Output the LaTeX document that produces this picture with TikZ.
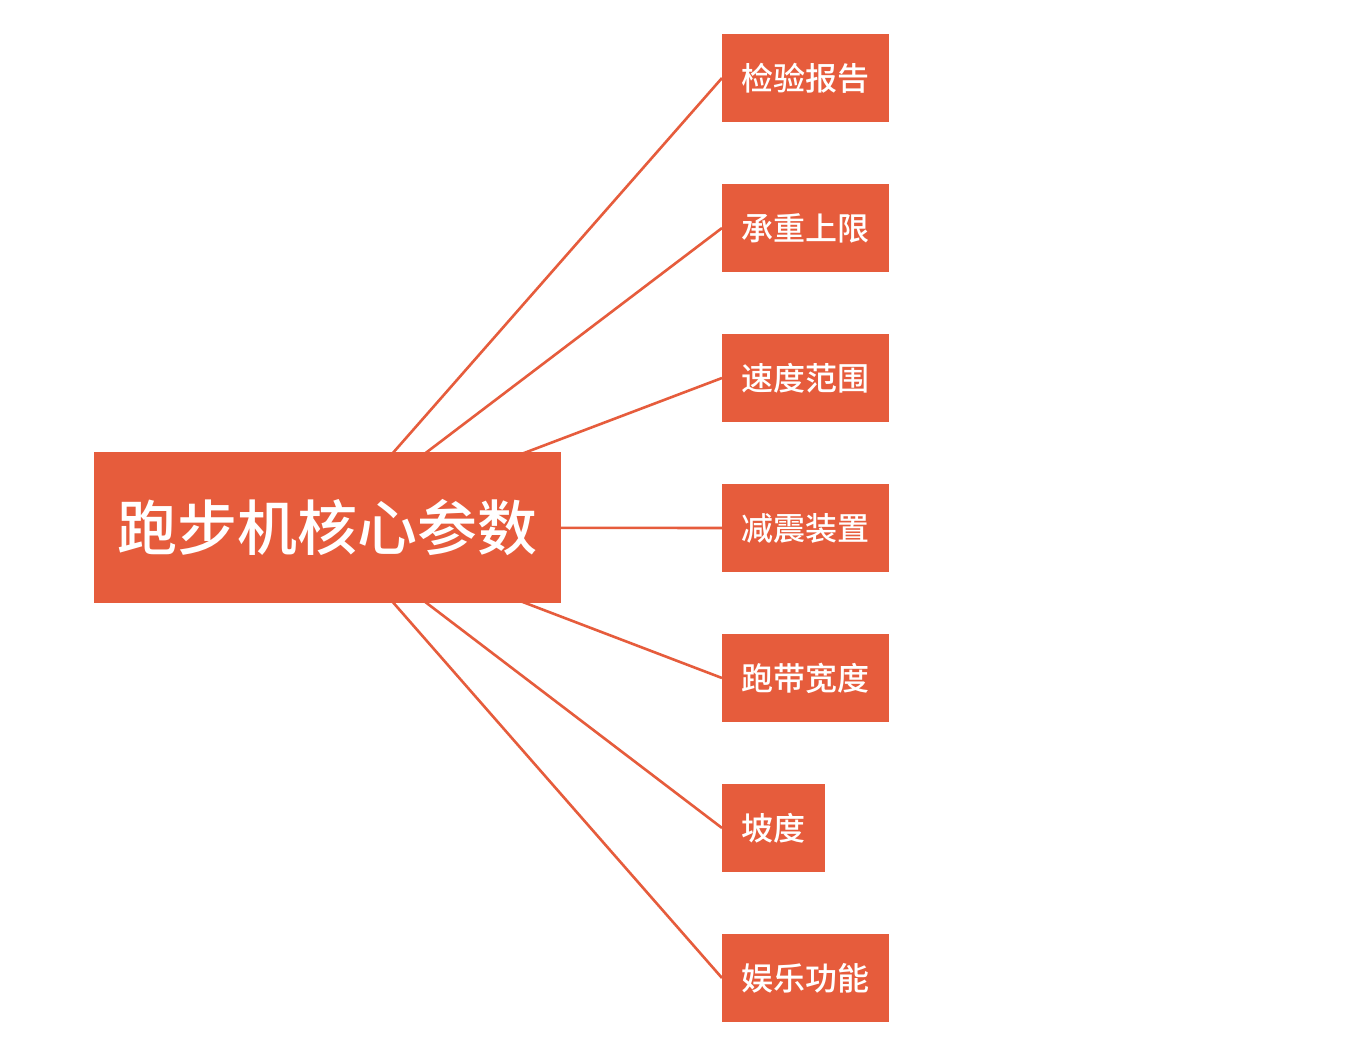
\documentclass[tikz,border=0pt]{standalone}
\usepackage{fontspec}
\newfontfamily\cjk{Noto Sans CJK SC}[BoldFont={* Medium}]
\definecolor{boxc}{RGB}{230,92,60}
\definecolor{linec}{RGB}{230,92,60}
\begin{document}
\begin{tikzpicture}[x=1pt,y=-1pt,
  mainbox/.style={fill=boxc,draw=none,minimum width=467pt,minimum height=151pt,inner sep=0pt,text=white,font=\cjk\bfseries\fontsize{60}{62}\selectfont},
  leaf/.style={fill=boxc,draw=none,minimum width=167pt,minimum height=88pt,inner sep=0pt,text=white,font=\cjk\bfseries\fontsize{32}{34}\selectfont},
  conn/.style={draw=linec,line width=2.6pt}]
\useasboundingbox[fill=white] (0,0) rectangle (1360,1052);
\coordinate (c) at (327.5,527.5);
\coordinate (k1) at (722,78);
\coordinate (k2) at (722,228);
\coordinate (k3) at (722,378);
\coordinate (k4) at (722,528);
\coordinate (k5) at (722,678);
\coordinate (k6) at (722,828);
\coordinate (k7) at (722,978);
\foreach \i in {1,...,7} \draw[conn] (c) -- (k\i);
\node[mainbox] (m) at (327.5,527.5) {\raisebox{-2pt}{跑步机核心参数}};
\node[leaf,anchor=west] (a1) at (k1) {\raisebox{-2pt}{检验报告}};
\node[leaf,anchor=west] (a2) at (k2) {\raisebox{-2pt}{承重上限}};
\node[leaf,anchor=west] (a3) at (k3) {\raisebox{-2pt}{速度范围}};
\node[leaf,anchor=west] (a4) at (k4) {\raisebox{-2pt}{减震装置}};
\node[leaf,anchor=west] (a5) at (k5) {\raisebox{-2pt}{跑带宽度}};
\node[leaf,anchor=west,minimum width=103pt] (a6) at (k6) {\raisebox{-2pt}{坡度}};
\node[leaf,anchor=west] (a7) at (k7) {\raisebox{-2pt}{娱乐功能}};
\end{tikzpicture}
\end{document}
